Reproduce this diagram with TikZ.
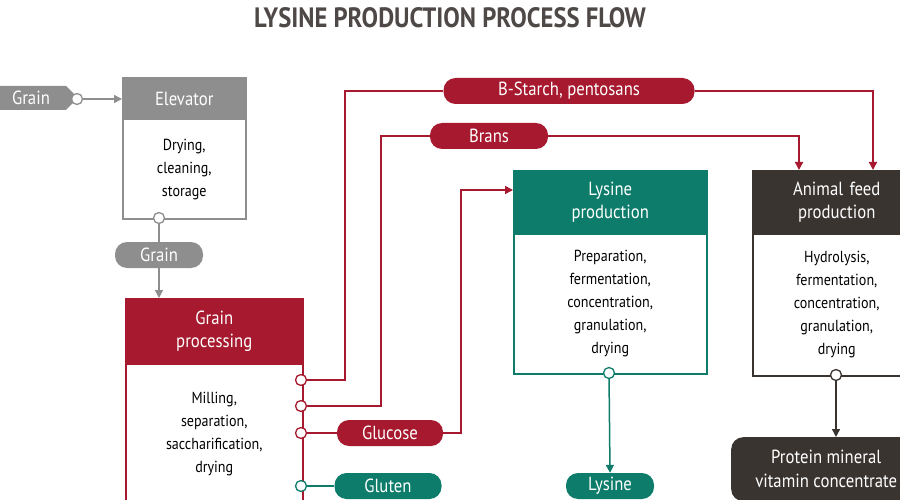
\documentclass[tikz,border=0pt]{standalone}
\usepackage{fontspec}
\setmainfont{PT Sans}[FakeStretch=0.88]
\usetikzlibrary{arrows.meta}
\definecolor{cred}{HTML}{A6192E}
\definecolor{cteal}{HTML}{0E7C6B}
\definecolor{cdark}{HTML}{3A3431}
\definecolor{cgray}{HTML}{8E8E8E}
\begin{document}
\begin{tikzpicture}[x=1pt,y=-1pt,
  hdr/.style={anchor=north west,fill=#1,draw=#1,line width=1.5pt,text=white,inner sep=0pt,align=center,font=\fontsize{19}{23}\selectfont},
  bod/.style={anchor=north west,fill=white,draw=#1,line width=1.5pt,inner sep=0pt,align=center,font=\fontsize{16}{23}\selectfont},
  pill/.style={fill=#1,rounded corners=12pt,text=white,inner sep=0pt,minimum height=26pt,font=\fontsize{19}{22}\selectfont},
  port/.style={circle,draw=#1,fill=white,line width=1.3pt,inner sep=0pt,minimum size=11pt},
  ln/.style={draw=#1,line width=1.5pt},
  arr/.style={draw=#1,line width=1.5pt,-{Triangle[length=8pt,width=8pt]}}]
\useasboundingbox (0,0) rectangle (900,500);
\clip (0,0) rectangle (900,500);
\node[font=\bfseries\fontsize{28}{30}\selectfont,text=cdark!90] (title) at (450,18) {LYSINE PRODUCTION PROCESS FLOW};
% Elevator
\node[hdr=cgray,minimum width=123pt,minimum height=42pt] (elh) at (122,77) {Elevator};
\node[bod=cgray,minimum width=123pt,minimum height=99pt] (elb) at (122,119) {Drying,\\cleaning,\\storage};
% Grain tag
\fill[cgray] (-5,86) -- (66,86) -- (78,98) -- (66,110) -- (-5,110) -- cycle;
\node[text=white,font=\fontsize{19}{22}\selectfont] (g0) at (31,98) {Grain};
\node[port=cgray] (p0) at (77,99) {};
\draw[arr=cgray] (p0) -- (elh.west|-p0);
\node[port=cgray] (p1) at (159,218) {};
\node[pill=cgray,minimum width=88pt] (g1) at (159,255) {Grain};
% Grain processing
\node[hdr=cred,minimum width=177pt,minimum height=65pt] (gph) at (125,298) {Grain\\processing};
\node[bod=cred,minimum width=177pt,minimum height=140pt] (gpb) at (125,363) {Milling,\\separation,\\saccharification,\\drying};
\draw[ln=cgray] (p1) -- (g1);
\draw[arr=cgray] (g1) -- (g1|-gph.north);
% Lysine box
\node[hdr=cteal,minimum width=193pt,minimum height=63pt] (lyh) at (513,170) {Lysine\\production};
\node[bod=cteal,minimum width=193pt,minimum height=140pt] (lyb) at (513,233) {Preparation,\\fermentation,\\concentration,\\granulation,\\drying};
% Animal feed box
\node[hdr=cdark,minimum width=168pt,minimum height=63pt,text width=168pt] (afh) at (752,170) {Animal feed\\production};
\node[bod=cdark,minimum width=168pt,minimum height=142pt,text width=168pt] (afb) at (752,233) {Hydrolysis,\\fermentation,\\concentration,\\granulation,\\drying};
% pills
\node[pill=cred,minimum width=251pt] (bs) at (569,91) {B-Starch, pentosans};
\node[pill=cred,minimum width=118pt] (br) at (489,136) {Brans};
\node[pill=cred,minimum width=106pt] (gl) at (390,433) {Glucose};
\node[pill=cteal,minimum width=107pt] (gt) at (388,486) {Gluten};
\node[pill=cteal,minimum width=88pt] (ly) at (610,486) {Lysine};
\node[fill=cdark,rounded corners=12pt,text=white,inner sep=0pt,minimum width=190pt,minimum height=64pt,align=center,font=\fontsize{19}{24}\selectfont,anchor=north west] (pm) at (731,437) {Protein mineral\\vitamin concentrate};
% ports
\node[port=cred] (q1) at (301,380) {};
\node[port=cred] (q2) at (301,406) {};
\node[port=cred] (q3) at (301,433) {};
\node[port=cteal] (q4) at (301,486) {};
\node[port=cteal] (q5) at (609,373) {};
\node[port=cdark] (q6) at (836,375) {};
% connectors
\draw[ln=cred] (q1) -- (345,380) -- (345,91) -- (bs.west);
\draw[arr=cred] (bs.east) -- (873,91) -- (873,170);
\draw[ln=cred] (q2) -- (381,406) -- (381,136) -- (br.west);
\draw[arr=cred] (br.east) -- (799,136) -- (799,170);
\draw[ln=cred] (q3) -- (gl);
\draw[arr=cred] (gl.east) -- (461,433) -- (461,190) -- (lyh.west|-0,190);
\draw[ln=cteal] (q4) -- (gt);
\draw[arr=cteal] (q5) -- (ly.north);
\draw[arr=cdark] (q6) -- (836,437);
\end{tikzpicture}
\end{document}
